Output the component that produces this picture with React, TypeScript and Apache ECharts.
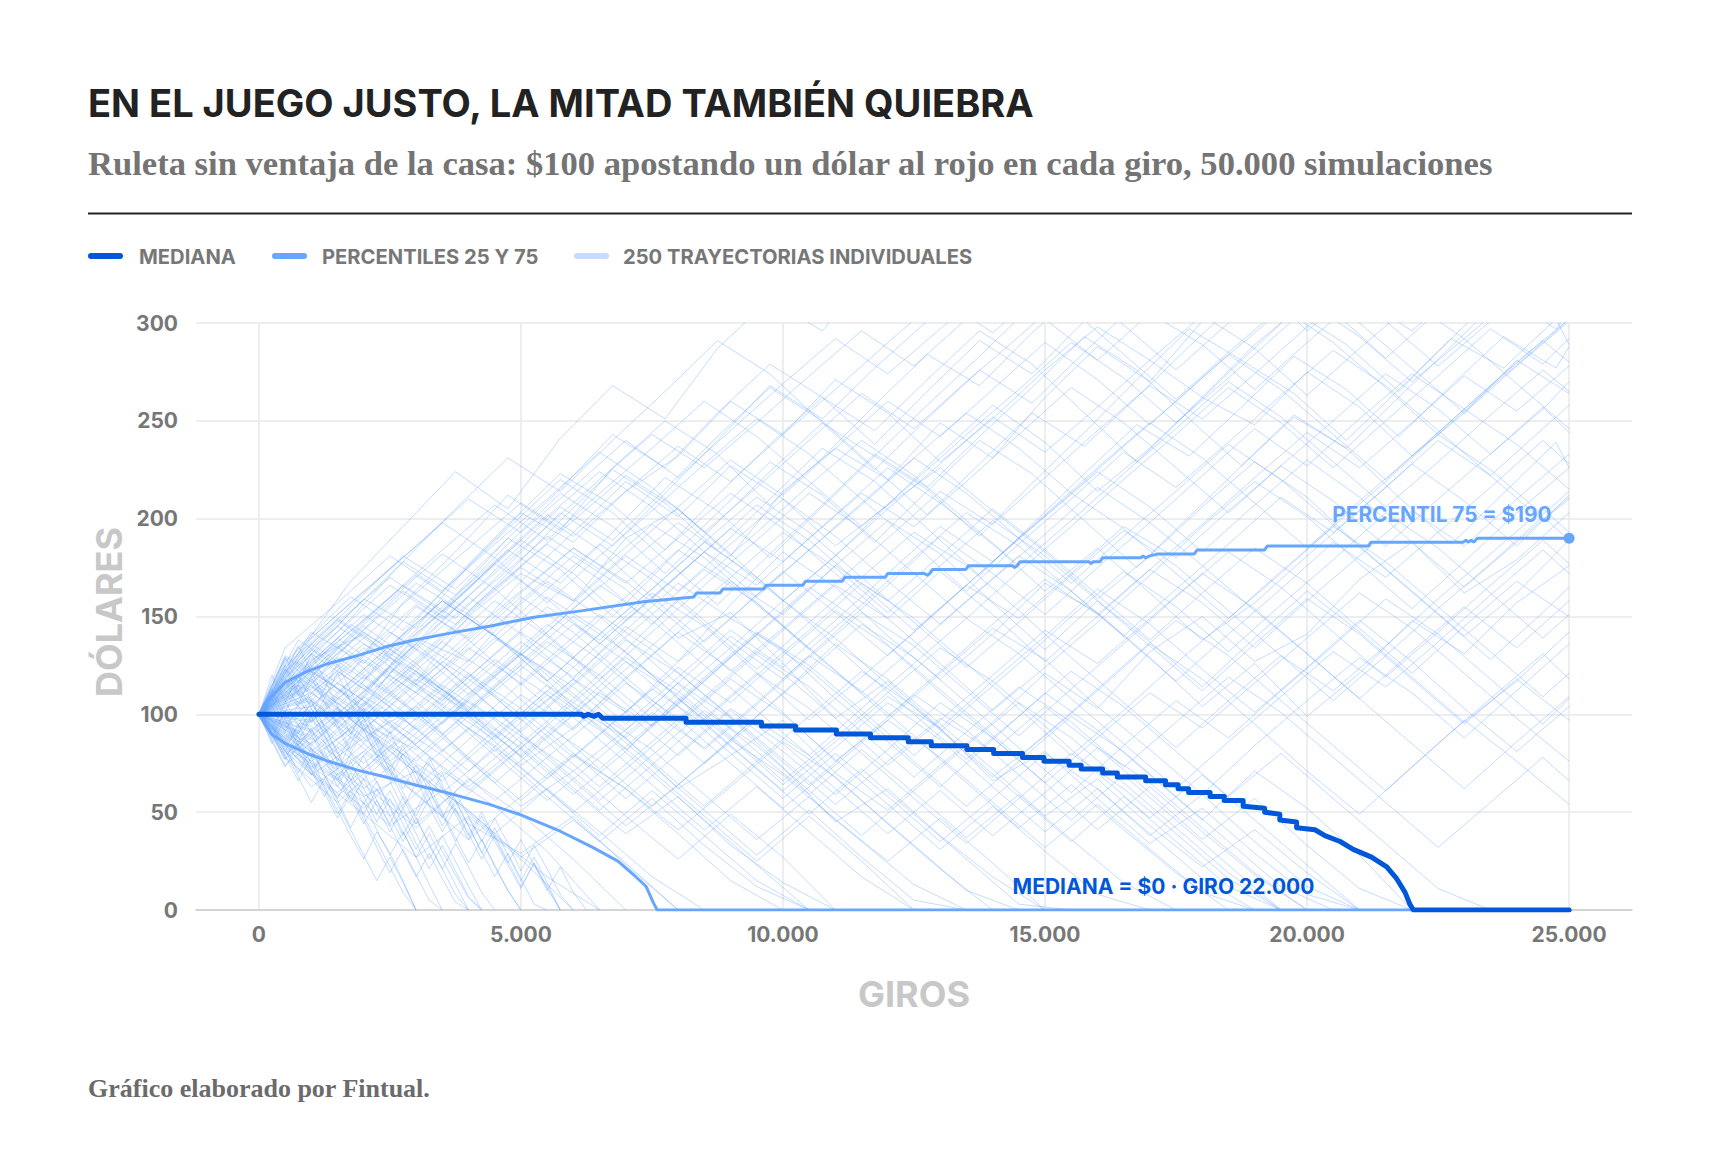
import React, { useEffect, useRef } from "react";
import * as echarts from "echarts";

const TITLE = "EN EL JUEGO JUSTO, LA MITAD TAMBIÉN QUIEBRA";
const SUBTITLE =
  "Ruleta sin ventaja de la casa: $100 apostando un dólar al rojo en cada giro, 50.000 simulaciones";
const FOOTER = "Gráfico elaborado por Fintual.";
const LEGEND_NAMES = ["MEDIANA", "PERCENTILES 25 Y 75", "250 TRAYECTORIAS INDIVIDUALES"];
const Y_NAME = "DÓLARES";
const X_NAME = "GIROS";
const LABEL_P75 = "PERCENTIL 75 = $190";
const LABEL_MEDIANA = "MEDIANA = $0 · GIRO 22.000";

const X_TICKS = [0, 5000, 10000, 15000, 20000, 25000];

// giros at which the trajectories of group A are sampled
const TRAJ_X_A = [
  0, 1000, 2000, 3000, 4000, 5000, 6000, 7000, 8000, 9000, 10000, 11000, 12000,
  13000, 14000, 15000, 16000, 17000, 18000, 19000, 20000, 21000, 22000, 23000,
  24000, 25000,
];
// giros at which the trajectories of group B are sampled
const TRAJ_X_B = [
  0, 500, 1500, 2500, 3500, 4500, 5500, 6500, 7500, 8500, 9500, 10500, 11500,
  12500, 13500, 14500, 15500, 16500, 17500, 18500, 19500, 20500, 21500, 22500,
  23500, 24500, 25000,
];
// giros at which the (early-ruined) trajectories of group C are sampled
const TRAJ_X_C = [
  0, 250, 500, 750, 1000, 1250, 1500, 1750, 2000, 2250, 2500, 2750, 3000, 3250,
  3500, 3750, 4000, 4250, 4500, 4750, 5000, 5250, 5500, 5750, 6000, 6250, 6500,
];
// giros at which the (high-climbing) trajectories of group D are sampled
const TRAJ_X_D = [
  0, 750, 1750, 2750, 3750, 4750, 5750, 6750, 7750, 8750, 9750, 10750, 11750,
  12750, 13750, 14750, 15750, 16750, 17750, 18750, 19750, 20750, 21750, 22750,
  23750, 24750, 25000,
];

// [giro, dólares]
const MEDIANA = [
  [0, 100], [6150, 100], [6200, 99], [6280, 100], [6400, 99], [6480, 100],
  [6560, 98], [8150, 98], [8150, 96], [9590, 96], [9590, 94], [10240, 94],
  [10240, 92], [11020, 92], [11020, 90], [11670, 90], [11670, 88], [12390, 88],
  [12390, 86], [12830, 86], [12830, 84], [13510, 84], [13510, 82], [14020, 82],
  [14020, 80], [14570, 80], [14570, 78], [14980, 78], [14980, 76], [15460, 76],
  [15460, 74], [15690, 74], [15690, 72], [16100, 72], [16100, 70], [16380, 70],
  [16380, 68], [16920, 68], [16920, 66], [17300, 66], [17300, 64], [17540, 64],
  [17540, 62], [17740, 62], [17740, 60], [18150, 60], [18150, 58], [18420, 58],
  [18420, 56], [18780, 56], [18780, 53], [19190, 52], [19190, 50], [19480, 49],
  [19480, 46], [19800, 45], [19800, 42], [20150, 41], [20340, 38], [20630, 35],
  [20880, 31], [21230, 27], [21520, 22], [21710, 16], [21870, 9], [21960, 3],
  [22030, 0], [25000, 0],
];

const PERCENTIL_75 = [
  [0, 100], [240, 109], [510, 116.5], [920, 122], [1330, 126], [1880, 130],
  [2420, 134.5], [2970, 138], [3650, 141.5], [4400, 145], [5220, 149.5],
  [6180, 153], [7340, 157.5], [8300, 160], [8350, 162], [8800, 162], [8850, 164],
  [9630, 164], [9680, 166],
  [10380, 166], [10430, 168], [11130, 168], [11180, 170], [11950, 170],
  [12000, 172], [12700, 172], [12750, 171], [12800, 172], [12850, 174],
  [13490, 174], [13540, 176], [14380, 176], [14420, 175], [14470, 176],
  [14520, 178], [15840, 178], [15870, 177], [15920, 178], [16050, 178],
  [16100, 180], [16830, 180], [16870, 181], [16920, 180], [17000, 181],
  [17170, 182], [17850, 182], [17900, 184], [19190, 184], [19240, 186],
  [21170, 186], [21220, 188], [22980, 188], [23030, 189], [23080, 188],
  [23130, 189], [23180, 188], [23250, 190], [25000, 190],
];

const PERCENTIL_25 = [
  [0, 100], [240, 90], [510, 85], [920, 80], [1330, 76], [1880, 71.5],
  [2420, 68], [2970, 64], [3650, 59.5], [4400, 54], [5010, 48.5], [5690, 41],
  [6370, 32], [6850, 25], [7190, 17], [7390, 12], [7530, 3.5], [7600, 0],
  [25000, 0],
];

const TRAYECTORIAS_A = [
  [100, 128, 141, 117, 150, 172, 158, 190, 205, 181, 214, 236, 220, 249, 231, 262, 288, 270, 301, 322, 296, 318, 340, 327, 352, 338],
  [100, 76, 58, 71, 44, 29, 48, 23, 0],
  [100, 117, 95, 82, 109, 131, 104, 88, 62, 79, 97, 70, 51, 74, 96, 121, 103, 132, 150, 127, 141, 169, 188, 162, 179, 203],
  [100, 84, 111, 139, 127, 158, 181, 164, 139, 152, 126, 98, 117, 93, 66, 81, 57, 34, 52, 29, 8, 0],
  [100, 131, 159, 144, 176, 203, 188, 214, 232, 260, 243, 271, 254, 229, 251, 276, 298, 281, 262, 289, 311, 293, 270, 292, 315, 301],
  [100, 69, 88, 104, 77, 53, 71, 92, 116, 98, 73, 45, 62, 38, 17, 0],
  [100, 122, 104, 138, 121, 97, 118, 145, 127, 156, 183, 165, 140, 118, 141, 167, 152, 129, 104, 126, 99, 121, 148, 131, 157, 176],
  [100, 91, 64, 42, 67, 49, 26, 0],
  [100, 113, 136, 122, 98, 74, 93, 118, 142, 168, 151, 176, 199, 182, 157, 133, 158, 137, 114, 139, 163, 142, 119, 96, 117, 142],
  [100, 78, 97, 121, 104, 82, 59, 81, 108, 87, 111, 136, 118, 95, 72, 48, 67, 43, 22, 41, 19, 0],
  [100, 142, 126, 155, 139, 168, 193, 219, 201, 227, 210, 186, 207, 233, 258, 239, 214, 236, 262, 248, 275, 257, 232, 254, 281, 264],
  [100, 87, 109, 93, 71, 96, 118, 101, 127, 149, 133, 108, 86, 63, 87, 111, 92, 69, 46, 71, 52, 28, 0],
  [100, 119, 143, 167, 151, 130, 154, 176, 198, 179, 158, 181, 207, 226, 204, 183, 159, 181, 206, 229, 211, 186, 163, 140, 162, 189],
  [100, 74, 52, 78, 101, 83, 61, 39, 58, 33, 14, 0],
  [100, 108, 86, 112, 134, 116, 93, 119, 142, 123, 101, 76, 97, 121, 144, 128, 104, 82, 59, 84, 107, 129, 111, 88, 112, 136],
  [100, 125, 107, 84, 63, 85, 108, 133, 159, 137, 118, 142, 166, 191, 172, 151, 175, 198, 222, 246, 227, 251, 274, 256, 280, 302],
  [100, 96, 119, 101, 78, 56, 79, 62, 41, 63, 86, 68, 44, 21, 0],
  [100, 136, 118, 141, 164, 189, 172, 148, 171, 195, 178, 202, 226, 208, 187, 163, 185, 162, 138, 157, 181, 204, 228, 209, 186, 212],
  [100, 81, 104, 126, 149, 131, 109, 88, 111, 134, 158, 139, 115, 92, 68, 89, 112, 136, 118, 95, 71, 49, 73, 97, 76, 54],
  [100, 72, 93, 70, 51, 27, 46, 24, 0],
  [100, 115, 92, 117, 141, 163, 185, 168, 146, 122, 144, 167, 190, 214, 197, 221, 245, 268, 251, 274, 298, 321, 304, 328, 311, 335],
  [100, 89, 112, 136, 114, 91, 115, 138, 121, 99, 77, 54, 76, 98, 81, 104, 83, 60, 36, 57, 33, 11, 0],
  [100, 127, 151, 133, 110, 132, 157, 181, 163, 187, 210, 191, 168, 146, 169, 192, 216, 198, 176, 153, 131, 108, 132, 155, 134, 158],
  [100, 63, 81, 59, 36, 58, 80, 62, 39, 15, 0],
  [100, 104, 128, 111, 136, 160, 142, 119, 96, 119, 143, 166, 149, 126, 102, 124, 147, 171, 196, 219, 201, 177, 154, 178, 203, 226],
  [100, 118, 98, 76, 99, 79, 102, 127, 110, 88, 64, 86, 109, 93, 117, 140, 164, 146, 123, 101, 124, 148, 127, 103, 81, 104],
  [100, 82, 62, 85, 107, 89, 66, 43, 64, 87, 69, 46, 25, 47, 24, 0],
  [100, 139, 163, 186, 210, 193, 216, 240, 221, 245, 269, 292, 274, 297, 320, 302, 281, 305, 289, 266, 290, 313, 296, 319, 341, 324],
  [100, 94, 72, 95, 119, 142, 124, 101, 79, 102, 81, 59, 82, 106, 88, 65, 41, 63, 40, 18, 0],
  [100, 111, 134, 115, 138, 162, 185, 167, 190, 213, 195, 172, 149, 173, 151, 127, 150, 174, 197, 221, 244, 226, 249, 273, 255, 278],
  [100, 76, 99, 122, 103, 127, 150, 132, 108, 84, 61, 83, 106, 87, 63, 40, 62, 38, 59, 35, 12, 0],
  [100, 121, 145, 126, 102, 125, 104, 82, 105, 129, 152, 176, 158, 181, 205, 184, 161, 138, 162, 185, 167, 144, 121, 145, 168, 150],
  [100, 88, 67, 44, 66, 89, 71, 48, 26, 49, 27, 0],
  [100, 133, 115, 92, 114, 137, 119, 143, 167, 149, 173, 152, 130, 154, 178, 201, 224, 206, 183, 207, 230, 211, 188, 165, 188, 211],
  [100, 107, 85, 63, 87, 110, 92, 116, 98, 75, 52, 74, 97, 78, 55, 32, 54, 31, 9, 0],
  [100, 124, 102, 127, 151, 175, 158, 182, 206, 230, 212, 236, 260, 242, 266, 290, 271, 248, 272, 295, 318, 300, 277, 254, 278, 301],
  [100, 79, 103, 85, 108, 131, 114, 92, 116, 140, 121, 98, 74, 97, 120, 143, 126, 149, 172, 154, 131, 108, 85, 62, 86, 109],
  [100, 114, 92, 70, 93, 73, 50, 72, 95, 118, 100, 77, 54, 31, 53, 30, 8, 0],
  [100, 131, 113, 136, 160, 141, 118, 95, 119, 143, 124, 148, 172, 196, 178, 202, 226, 249, 231, 208, 185, 209, 232, 256, 238, 215],
  [100, 92, 115, 97, 120, 100, 78, 101, 124, 106, 130, 153, 135, 111, 88, 65, 88, 111, 93, 116, 139, 162, 144, 121, 98, 76],
  [100, 70, 49, 27, 48, 26, 0],
  [100, 126, 148, 171, 153, 176, 199, 222, 205, 182, 158, 181, 205, 228, 252, 234, 257, 281, 304, 287, 263, 287, 310, 292, 269, 246],
  [100, 97, 75, 98, 121, 103, 80, 57, 80, 103, 85, 62, 39, 61, 38, 60, 83, 65, 42, 19, 0],
  [100, 109, 132, 156, 138, 115, 137, 160, 184, 167, 145, 122, 99, 122, 146, 169, 151, 174, 157, 134, 158, 181, 204, 186, 210, 233],
  [100, 85, 106, 84, 61, 83, 106, 129, 112, 89, 66, 88, 111, 134, 117, 94, 70, 47, 69, 46, 23, 0],
  [100, 120, 142, 124, 101, 78, 100, 123, 147, 170, 193, 175, 152, 176, 199, 181, 158, 135, 112, 136, 159, 141, 118, 95, 118, 97],
  [100, 73, 96, 118, 101, 123, 146, 127, 104, 80, 57, 80, 58, 35, 57, 80, 62, 39, 16, 0],
  [100, 116, 139, 162, 185, 208, 191, 214, 237, 219, 243, 266, 290, 313, 295, 318, 342, 324, 347, 370, 352, 376, 358, 381, 405, 387],
];

const TRAYECTORIAS_B = [
  [100, 118, 96, 124, 107, 131, 155, 138, 162, 145, 121, 97, 119, 142, 166, 149, 172, 196, 180, 204, 227, 209, 186, 210, 233, 257, 244],
  [100, 84, 66, 43, 61, 38, 17, 0],
  [100, 109, 135, 112, 90, 114, 137, 120, 98, 75, 99, 122, 146, 129, 106, 83, 60, 84, 107, 88, 112, 135, 159, 141, 118, 95, 108],
  [100, 87, 110, 133, 158, 140, 117, 141, 164, 188, 170, 147, 123, 100, 77, 99, 122, 104, 81, 58, 80, 57, 34, 11, 0],
  [100, 121, 147, 170, 152, 177, 201, 224, 206, 183, 160, 184, 207, 231, 254, 236, 213, 237, 260, 284, 266, 243, 220, 244, 268, 291, 280],
  [100, 79, 102, 83, 60, 82, 58, 35, 57, 33, 12, 0],
  [100, 112, 89, 113, 137, 119, 96, 72, 95, 119, 142, 125, 102, 79, 103, 126, 150, 173, 155, 132, 156, 179, 203, 185, 162, 139, 151],
  [100, 93, 116, 98, 121, 145, 168, 150, 127, 104, 81, 59, 82, 60, 37, 59, 36, 14, 0],
  [100, 128, 105, 129, 111, 88, 112, 136, 159, 183, 166, 190, 213, 196, 219, 243, 267, 249, 226, 203, 227, 250, 274, 256, 233, 256, 270],
  [100, 74, 97, 120, 102, 79, 56, 78, 101, 83, 106, 130, 112, 89, 65, 42, 64, 41, 19, 0],
  [100, 115, 139, 121, 145, 168, 191, 174, 197, 180, 157, 133, 156, 180, 203, 186, 163, 140, 117, 141, 164, 188, 170, 193, 216, 240, 228],
  [100, 96, 73, 97, 79, 56, 78, 100, 82, 59, 36, 58, 35, 13, 0],
  [100, 123, 100, 76, 99, 122, 146, 128, 105, 82, 105, 129, 152, 135, 112, 89, 113, 136, 160, 183, 165, 142, 119, 142, 166, 189, 177],
  [100, 81, 58, 82, 105, 87, 110, 92, 69, 46, 23, 0],
  [100, 134, 157, 181, 163, 187, 210, 234, 216, 193, 216, 240, 264, 246, 270, 293, 317, 299, 276, 300, 323, 306, 282, 306, 329, 353, 340],
  [100, 106, 129, 111, 88, 65, 88, 111, 94, 117, 141, 123, 100, 76, 53, 76, 99, 81, 58, 35, 12, 0],
  [100, 88, 111, 135, 158, 140, 164, 187, 169, 146, 123, 147, 170, 193, 176, 153, 129, 106, 83, 107, 130, 112, 135, 159, 182, 205, 193],
  [100, 117, 94, 71, 48, 71, 94, 76, 53, 75, 97, 79, 56, 33, 10, 0],
  [100, 125, 149, 131, 155, 178, 202, 184, 160, 137, 161, 184, 208, 231, 213, 190, 167, 191, 214, 238, 220, 197, 174, 151, 128, 152, 165],
  [100, 90, 67, 91, 115, 97, 74, 51, 74, 98, 121, 103, 80, 57, 34, 57, 80, 62, 39, 16, 0],
  [100, 111, 134, 158, 182, 164, 141, 118, 142, 166, 189, 213, 195, 172, 149, 173, 196, 220, 243, 267, 249, 226, 250, 273, 297, 279, 292],
  [100, 77, 100, 123, 105, 128, 110, 87, 64, 41, 63, 40, 17, 0],
  [100, 130, 113, 90, 113, 137, 160, 143, 120, 97, 120, 143, 167, 149, 126, 103, 79, 102, 126, 149, 173, 196, 178, 155, 132, 109, 121],
  [100, 95, 119, 142, 125, 102, 79, 56, 79, 102, 84, 61, 38, 61, 84, 106, 88, 65, 42, 19, 0],
  [100, 119, 142, 166, 149, 172, 196, 220, 243, 226, 249, 273, 296, 278, 302, 325, 307, 284, 261, 285, 308, 290, 267, 243, 267, 290, 302],
  [100, 83, 60, 84, 66, 89, 112, 94, 71, 48, 25, 48, 25, 0],
  [100, 110, 87, 111, 134, 158, 140, 117, 94, 118, 141, 165, 147, 124, 101, 78, 101, 125, 148, 130, 107, 84, 61, 85, 108, 131, 118],
  [100, 122, 145, 127, 104, 81, 104, 128, 151, 174, 157, 134, 111, 134, 158, 181, 163, 140, 164, 187, 211, 193, 216, 240, 222, 199, 210],
  [100, 86, 109, 91, 68, 92, 115, 97, 74, 51, 28, 51, 27, 5, 0],
  [100, 127, 151, 174, 198, 180, 157, 181, 204, 228, 251, 233, 210, 187, 163, 187, 210, 234, 216, 239, 263, 286, 268, 245, 222, 246, 258],
  [100, 92, 69, 93, 116, 139, 122, 99, 76, 53, 76, 99, 122, 104, 81, 58, 35, 58, 35, 12, 0],
  [100, 113, 136, 118, 95, 119, 142, 166, 148, 125, 102, 79, 103, 126, 149, 131, 108, 85, 62, 86, 109, 132, 114, 137, 161, 184, 172],
  [100, 78, 55, 79, 102, 84, 61, 38, 61, 38, 15, 0],
  [100, 124, 148, 130, 153, 177, 159, 136, 160, 183, 207, 189, 166, 143, 166, 190, 213, 195, 172, 149, 172, 196, 219, 243, 225, 202, 214],
  [100, 99, 122, 104, 81, 104, 128, 151, 133, 110, 87, 64, 87, 110, 92, 69, 46, 69, 46, 23, 0],
  [100, 116, 93, 117, 140, 164, 187, 169, 146, 170, 193, 217, 240, 222, 199, 176, 199, 223, 246, 270, 252, 229, 206, 229, 253, 276, 265],
  [100, 85, 108, 131, 113, 90, 67, 90, 113, 95, 72, 49, 72, 49, 26, 3, 0],
  [100, 129, 111, 135, 158, 140, 117, 141, 164, 188, 211, 193, 170, 147, 124, 147, 171, 194, 176, 153, 130, 107, 130, 154, 177, 201, 189],
  [100, 94, 71, 48, 71, 53, 30, 0],
  [100, 114, 137, 160, 184, 207, 189, 213, 236, 260, 242, 219, 196, 219, 243, 266, 290, 272, 249, 272, 296, 319, 301, 278, 301, 325, 312],
  [100, 103, 80, 104, 127, 109, 86, 63, 86, 109, 132, 114, 91, 68, 91, 114, 96, 73, 96, 119, 101, 78, 55, 32, 55, 78, 66],
  [100, 80, 103, 85, 62, 39, 62, 40, 17, 0],
];

const TRAYECTORIAS_C = [
  [100, 112, 97, 84, 93, 78, 66, 80, 71, 56, 44, 58, 47, 33, 21, 34, 22, 9, 0],
  [100, 88, 101, 115, 103, 90, 76, 89, 102, 87, 73, 60, 48, 61, 49, 35, 47, 36, 22, 10, 0],
  [100, 91, 79, 66, 78, 63, 51, 38, 26, 40, 29, 15, 0],
  [100, 109, 123, 110, 96, 108, 121, 106, 92, 78, 91, 77, 63, 75, 62, 49, 36, 48, 35, 23, 11, 24, 12, 0],
  [100, 94, 81, 95, 82, 69, 57, 70, 58, 45, 57, 44, 31, 43, 30, 18, 6, 0],
  [100, 115, 129, 116, 131, 118, 104, 90, 103, 89, 76, 62, 74, 61, 47, 60, 48, 35, 47, 34, 20, 33, 21, 8, 0],
  [100, 86, 73, 85, 72, 60, 47, 59, 46, 32, 19, 31, 18, 5, 0],
  [100, 104, 91, 105, 119, 106, 93, 80, 92, 79, 66, 52, 65, 78, 64, 51, 38, 50, 37, 24, 36, 23, 10, 22, 9, 0],
  [100, 89, 102, 88, 75, 62, 49, 61, 48, 35, 22, 9, 0],
  [100, 113, 100, 86, 99, 113, 126, 112, 98, 85, 71, 84, 70, 57, 43, 56, 43, 29, 42, 28, 15, 27, 14, 0],
  [100, 97, 84, 70, 83, 69, 56, 42, 55, 41, 28, 40, 27, 13, 0],
  [100, 108, 95, 82, 69, 81, 68, 55, 67, 53, 40, 52, 39, 26, 38, 25, 12, 0],
  [100, 120, 107, 94, 107, 93, 80, 66, 79, 65, 52, 38, 51, 64, 50, 37, 24, 36, 23, 10, 0],
  [100, 92, 106, 120, 107, 94, 81, 67, 54, 66, 53, 40, 27, 39, 26, 13, 0],
  [100, 85, 98, 84, 71, 58, 70, 57, 44, 56, 43, 30, 17, 29, 16, 4, 0],
  [100, 107, 121, 135, 122, 108, 95, 82, 95, 81, 68, 80, 67, 53, 40, 52, 39, 26, 38, 25, 12, 24, 11, 0],
  [100, 95, 82, 68, 55, 67, 54, 41, 28, 15, 27, 14, 0],
  [100, 111, 125, 112, 99, 86, 72, 85, 98, 84, 71, 57, 44, 57, 70, 56, 43, 30, 17, 29, 16, 3, 0],
  [100, 90, 77, 90, 103, 89, 76, 63, 49, 62, 48, 35, 47, 34, 21, 8, 0],
  [100, 103, 117, 104, 90, 77, 63, 76, 62, 49, 61, 48, 34, 21, 33, 20, 7, 0],
];

const TRAYECTORIAS_D = [
  [100, 131, 168, 196, 224, 205, 241, 268, 251, 287, 312, 296, 328, 351],
  [100, 122, 149, 178, 161, 190, 215, 243, 226, 254, 279, 262, 238, 265, 291, 274, 301, 327, 349],
  [100, 138, 121, 157, 183, 212, 194, 226, 250, 233, 207, 231, 258, 284, 268, 295, 318, 343],
  [100, 117, 146, 129, 158, 184, 167, 193, 221, 204, 180, 206, 232, 215, 191, 218, 244, 271, 297, 281, 306, 289, 265, 292, 318, 301, 314],
  [100, 127, 109, 141, 170, 197, 223, 207, 184, 212, 238, 262, 245, 271, 296, 279, 254, 229, 255, 281, 264, 240, 266, 292, 277, 302, 289],
  [100, 112, 141, 166, 149, 176, 203, 186, 213, 240, 268, 251, 277, 301, 326, 350],
  [100, 134, 160, 143, 169, 195, 220, 203, 179, 156, 182, 207, 233, 216, 242, 267, 293, 276, 251, 227, 253, 236, 262, 288, 314, 297, 306],
  [100, 119, 101, 133, 160, 187, 213, 196, 172, 198, 224, 249, 232, 258, 283, 309, 334],
  [100, 126, 152, 178, 205, 231, 214, 240, 265, 291, 274, 249, 225, 251, 276, 259, 285, 310, 336],
  [100, 108, 137, 163, 146, 172, 199, 225, 208, 184, 210, 236, 219, 195, 171, 197, 223, 248, 232, 257, 283, 266, 242, 268, 293, 277, 288],
  [100, 129, 155, 181, 164, 190, 174, 150, 177, 203, 229, 212, 188, 214, 240, 223, 199, 175, 201, 227, 252, 236, 211, 187, 213, 239, 226],
  [100, 115, 98, 128, 154, 180, 206, 189, 215, 242, 267, 250, 226, 202, 228, 254, 237, 262, 288, 313, 338],
];

const C_MEDIANA = "#0057d9";
const C_PERC = "#66a6ff";
const C_TRAY = "#c6dbff";
const C_TRAY_LINE = "#5c9dff";
const SANS = "Inter, 'Noto Sans', sans-serif";
const SERIF = "'Liberation Serif', 'DejaVu Serif', serif";

const fmtMiles = (v: number) => String(v).replace(/\B(?=(\d{3})+(?!\d))/g, ".");

export default function App() {
  const ref = useRef<HTMLDivElement>(null);

  useEffect(() => {
    if (!ref.current) return;
    const chart = echarts.init(ref.current, undefined, { renderer: "svg" });

    const mkTray = (vals: number[], xs: number[]) => ({
      type: "line",
      name: LEGEND_NAMES[2],
      data: vals.map((v, j) => [xs[j], v]),
      symbol: "none",
      silent: true,
      z: 1,
      lineStyle: { color: C_TRAY_LINE, width: 1, opacity: 0.36 },
    });
    const traySeries = [
      ...TRAYECTORIAS_A.map((v) => mkTray(v, TRAJ_X_A)),
      ...TRAYECTORIAS_B.map((v) => mkTray(v, TRAJ_X_B)),
      ...TRAYECTORIAS_C.map((v) => mkTray(v, TRAJ_X_C)),
      ...TRAYECTORIAS_D.map((v) => mkTray(v, TRAJ_X_D)),
    ];

    const legendX = [
      { sx: 88, tx: 139, color: C_MEDIANA },
      { sx: 272, tx: 322, color: C_PERC },
      { sx: 574, tx: 623, color: C_TRAY },
    ];

    const graphic: any[] = [
      {
        type: "text",
        x: 88,
        y: 103,
        style: {
          text: TITLE,
          fill: "#222222",
          fontSize: 38,
          fontWeight: 700,
          fontFamily: SANS,
          verticalAlign: "middle",
        },
      },
      {
        type: "text",
        x: 88,
        y: 163,
        style: {
          text: SUBTITLE,
          fill: "#747474",
          fontSize: 34.6,
          fontWeight: 700,
          fontFamily: SERIF,
          verticalAlign: "middle",
        },
      },
      {
        type: "line",
        shape: { x1: 88, y1: 213.5, x2: 1632, y2: 213.5 },
        style: { stroke: "#222222", lineWidth: 2 },
      },
      ...legendX.flatMap((l, i) => [
        {
          type: "rect",
          shape: { x: l.sx, y: 253, width: 35, height: 6, r: 3 },
          style: { fill: l.color },
        },
        {
          type: "text",
          x: l.tx,
          y: 256.5,
          style: {
            text: LEGEND_NAMES[i],
            fill: "#777777",
            fontSize: 20.2,
            fontWeight: 700,
            fontFamily: SANS,
            verticalAlign: "middle",
          },
        },
      ]),
      {
        type: "text",
        x: 109,
        y: 612,
        rotation: Math.PI / 2,
        style: {
          text: Y_NAME,
          fill: "#c8c8c8",
          fontSize: 36,
          fontWeight: 700,
          fontFamily: SANS,
          align: "center",
          verticalAlign: "middle",
        },
      },
      {
        type: "text",
        x: 914,
        y: 994,
        style: {
          text: X_NAME,
          fill: "#c8c8c8",
          fontSize: 36,
          fontWeight: 700,
          fontFamily: SANS,
          align: "center",
          verticalAlign: "middle",
        },
      },
      {
        type: "text",
        x: 88,
        y: 1088,
        style: {
          text: FOOTER,
          fill: "#6b6b6b",
          fontSize: 26,
          fontWeight: 700,
          fontFamily: SERIF,
          verticalAlign: "middle",
        },
      },
    ];

    chart.setOption({
      animation: false,
      backgroundColor: "#ffffff",
      grid: { left: 196, right: 88, top: 323, bottom: 256, containLabel: false },
      xAxis: {
        type: "value",
        min: -1200,
        max: 26200,
        axisLine: { show: true, lineStyle: { color: "#cccccc", width: 1.5 } },
        axisTick: { show: false, customValues: X_TICKS },
        axisLabel: {
          customValues: X_TICKS,
          formatter: (v: number) => fmtMiles(v),
          color: "#777777",
          fontSize: 21,
          fontWeight: 700,
          fontFamily: SANS,
          margin: 14,
        },
        splitLine: { show: true, lineStyle: { color: "#e8e8e8", width: 1.5 } },
      },
      yAxis: {
        type: "value",
        min: 0,
        max: 300,
        interval: 50,
        axisLine: { show: false },
        axisTick: { show: false },
        axisLabel: {
          color: "#777777",
          fontSize: 21,
          fontWeight: 700,
          fontFamily: SANS,
          margin: 18,
        },
        splitLine: { show: true, lineStyle: { color: "#e8e8e8", width: 1.5 } },
      },
      graphic,
      series: [
        ...traySeries,
        {
          type: "line",
          name: "P25",
          data: PERCENTIL_25,
          symbol: "none",
          z: 3,
          lineStyle: { color: C_PERC, width: 3 },
        },
        {
          type: "line",
          name: "P75",
          data: PERCENTIL_75,
          symbol: "none",
          z: 3,
          lineStyle: { color: C_PERC, width: 3 },
          markPoint: {
            symbol: "circle",
            symbolSize: 11,
            itemStyle: { color: C_PERC },
            label: {
              show: true,
              formatter: LABEL_P75,
              position: [-12, -18],
              align: "right",
              verticalAlign: "middle",
              color: C_PERC,
              fontSize: 20.8,
              fontWeight: 700,
              fontFamily: SANS,
            },
            data: [{ coord: PERCENTIL_75[PERCENTIL_75.length - 1] }],
          },
        },
        {
          type: "line",
          name: "Mediana",
          data: MEDIANA,
          symbol: "none",
          z: 4,
          lineStyle: { color: C_MEDIANA, width: 5, cap: "round", join: "round" },
          markPoint: {
            symbol: "circle",
            symbolSize: 1,
            itemStyle: { color: "rgba(0,0,0,0)" },
            label: {
              show: true,
              formatter: LABEL_MEDIANA,
              position: [-97, -23],
              align: "right",
              verticalAlign: "middle",
              color: C_MEDIANA,
              fontSize: 21,
              fontWeight: 700,
              fontFamily: SANS,
            },
            data: [{ coord: [22000, 0] }],
          },
        },
      ],
    });

    return () => chart.dispose();
  }, []);

  return (
    <div
      ref={ref}
      style={{ position: "fixed", left: 0, top: 0, width: 1720, height: 1166, background: "#fff" }}
    />
  );
}
